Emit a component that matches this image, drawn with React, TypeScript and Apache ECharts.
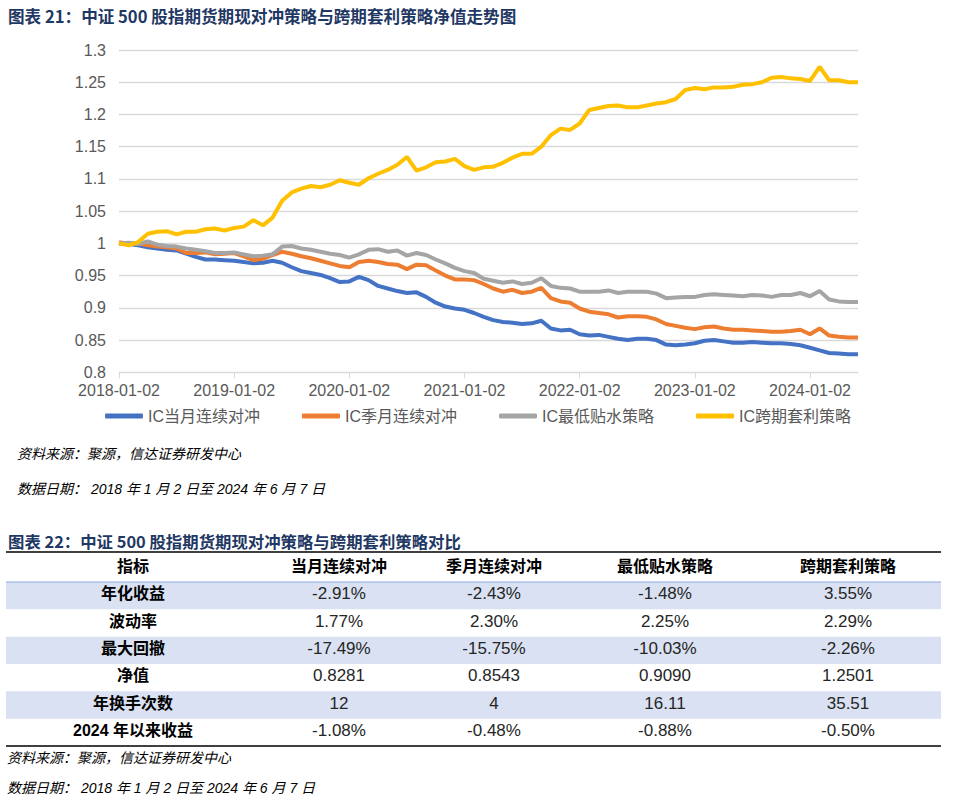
import React, { useEffect, useRef } from "react";
import * as echarts from "echarts";

const dates = [
  "2018-01-02","2018-02-01","2018-03-01","2018-04-02","2018-05-02","2018-06-01","2018-07-02","2018-08-01","2018-09-03","2018-10-08","2018-11-01","2018-12-03",
  "2019-01-02","2019-02-01","2019-03-01","2019-04-01","2019-05-06","2019-06-03","2019-07-01","2019-08-01","2019-09-02","2019-10-08","2019-11-01","2019-12-02",
  "2020-01-02","2020-02-03","2020-03-02","2020-04-01","2020-05-06","2020-06-01","2020-07-01","2020-08-03","2020-09-01","2020-10-09","2020-11-02","2020-12-01",
  "2021-01-02","2021-02-01","2021-03-01","2021-04-01","2021-05-06","2021-06-01","2021-07-01","2021-08-02","2021-09-01","2021-10-08","2021-11-01","2021-12-01",
  "2022-01-02","2022-02-07","2022-03-01","2022-04-01","2022-05-05","2022-06-01","2022-07-01","2022-08-01","2022-09-01","2022-10-10","2022-11-01","2022-12-01",
  "2023-01-02","2023-02-01","2023-03-01","2023-04-03","2023-05-04","2023-06-01","2023-07-03","2023-08-01","2023-09-01","2023-10-09","2023-11-01","2023-12-01",
  "2024-01-02","2024-02-01","2024-03-01","2024-04-01","2024-05-06","2024-06-07",
];

const tickLabels = ["2018-01-02","2019-01-02","2020-01-02","2021-01-02","2022-01-02","2023-01-02","2024-01-02"];

const icMonthly = [
  1.000,0.999,0.997,0.994,0.992,0.990,0.989,0.984,0.979,0.975,0.975,0.974,
  0.973,0.971,0.969,0.970,0.973,0.970,0.963,0.957,0.954,0.951,0.946,0.940,
  0.941,0.948,0.943,0.934,0.930,0.926,0.923,0.924,0.917,0.908,0.902,0.899,
  0.897,0.892,0.886,0.881,0.878,0.877,0.875,0.876,0.880,0.868,0.865,0.866,
  0.859,0.857,0.858,0.855,0.852,0.850,0.852,0.852,0.850,0.843,0.842,0.843,
  0.845,0.849,0.850,0.848,0.846,0.846,0.847,0.846,0.845,0.845,0.844,0.842,
  0.838,0.834,0.830,0.829,0.828,0.828,
];
const icQuarterly = [
  1.002,0.999,1.000,0.997,0.995,0.994,0.992,0.985,0.985,0.986,0.983,0.984,
  0.985,0.980,0.974,0.976,0.982,0.987,0.984,0.980,0.977,0.973,0.969,0.965,
  0.963,0.971,0.973,0.971,0.968,0.967,0.960,0.967,0.966,0.958,0.950,0.944,
  0.944,0.943,0.937,0.930,0.925,0.928,0.923,0.925,0.931,0.915,0.910,0.908,
  0.899,0.894,0.892,0.890,0.885,0.887,0.887,0.886,0.882,0.875,0.872,0.869,
  0.867,0.870,0.871,0.868,0.866,0.866,0.865,0.864,0.863,0.863,0.864,0.866,
  0.859,0.868,0.857,0.855,0.854,0.854,
];
const icMinDiscount = [
  1.000,1.001,0.999,1.003,0.998,0.996,0.995,0.992,0.990,0.988,0.985,0.985,
  0.986,0.983,0.980,0.981,0.983,0.995,0.996,0.992,0.990,0.987,0.984,0.982,
  0.978,0.983,0.990,0.991,0.987,0.989,0.981,0.985,0.982,0.975,0.969,0.962,
  0.957,0.954,0.945,0.942,0.939,0.941,0.937,0.939,0.946,0.934,0.931,0.930,
  0.925,0.925,0.925,0.927,0.923,0.925,0.925,0.925,0.922,0.915,0.916,0.917,
  0.917,0.920,0.921,0.920,0.919,0.918,0.920,0.919,0.917,0.920,0.920,0.923,
  0.918,0.926,0.913,0.910,0.909,0.909,
];
const icCalendar = [
  1.000,0.997,1.002,1.015,1.018,1.019,1.014,1.018,1.018,1.022,1.023,1.020,
  1.024,1.026,1.036,1.028,1.040,1.066,1.079,1.085,1.089,1.087,1.091,1.098,
  1.094,1.091,1.101,1.108,1.114,1.122,1.134,1.113,1.118,1.126,1.127,1.131,
  1.120,1.114,1.118,1.119,1.125,1.133,1.139,1.139,1.150,1.168,1.178,1.176,
  1.186,1.207,1.210,1.213,1.214,1.211,1.211,1.214,1.217,1.219,1.224,1.238,
  1.241,1.239,1.242,1.242,1.243,1.246,1.247,1.250,1.257,1.258,1.256,1.255,
  1.252,1.274,1.253,1.253,1.250,1.250,
];

const seriesNames = ["IC当月连续对冲", "IC季月连续对冲", "IC最低贴水策略", "IC跨期套利策略"];
const seriesColors = ["#4472C4", "#ED7D31", "#A5A5A5", "#FFC000"];

const chartTitle = "图表 21：中证 500 股指期货期现对冲策略与跨期套利策略净值走势图";
const tableTitle = "图表 22：中证 500 股指期货期现对冲策略与跨期套利策略对比";
const sourceText = "资料来源：聚源，信达证券研发中心";
const dateText = "数据日期： 2018 年 1 月 2 日至 2024 年 6 月 7 日";

const tableHeader = ["指标", "当月连续对冲", "季月连续对冲", "最低贴水策略", "跨期套利策略"];
const metrics = ["年化收益", "波动率", "最大回撤", "净值", "年换手次数", "2024 年以来收益"];
const colMonthly = ["-2.91%", "1.77%", "-17.49%", "0.8281", "12", "-1.08%"];
const colQuarterly = ["-2.43%", "2.30%", "-15.75%", "0.8543", "4", "-0.48%"];
const colMinDiscount = ["-1.48%", "2.25%", "-10.03%", "0.9090", "16.11", "-0.88%"];
const colCalendar = ["3.55%", "2.29%", "-2.26%", "1.2501", "35.51", "-0.50%"];

const CJK = "'Noto Sans CJK SC'";
const LATIN = "'Liberation Sans', 'Noto Sans CJK SC', sans-serif";

function txt(text: string, x: number, y: number, font: string, fill: string, align = "left") {
  return {
    type: "text",
    x,
    y,
    silent: true,
    style: {
      text,
      font,
      fill,
      align,
      verticalAlign: "middle",
      textAlign: align,
      textVerticalAlign: "middle",
    },
  };
}

export default function App() {
  const ref = useRef<HTMLDivElement>(null);

  useEffect(() => {
    if (!ref.current) return;
    const chart = echarts.init(ref.current, undefined, { renderer: "svg" });

    const showTick = (_i: number, v: string) => tickLabels.includes(v);

    // table layout
    const colX = [133, 339, 494, 665, 848];
    const tableLeft = 6;
    const tableRight = 941;
    const headTop = 552;
    const bodyTop = 582;
    const bodyBottom = 746;
    const rowH = (bodyBottom - bodyTop) / metrics.length;
    const columns = [colMonthly, colQuarterly, colMinDiscount, colCalendar];

    const graphic: any[] = [];
    graphic.push(txt(chartTitle, 8, 16, `bold 16.6px ${CJK}`, "#1F3864"));
    graphic.push(txt(sourceText, 17, 453, `italic 14px ${CJK}`, "#000000"));
    graphic.push(txt(dateText, 17, 489, `italic 14px ${LATIN}`, "#000000"));
    graphic.push(txt(tableTitle, 8, 541, `bold 16.4px ${CJK}`, "#1F3864"));

    metrics.forEach((_m, i) => {
      if (i % 2 === 0) {
        graphic.push({
          type: "rect",
          silent: true,
          shape: { x: tableLeft, y: bodyTop + i * rowH, width: tableRight - tableLeft, height: rowH },
          style: { fill: "#D9E1F2" },
        });
      }
    });
    graphic.push({
      type: "line", silent: true,
      shape: { x1: tableLeft, y1: headTop, x2: tableRight, y2: headTop },
      style: { stroke: "#000000", lineWidth: 1.5 },
    });
    graphic.push({
      type: "line", silent: true,
      shape: { x1: tableLeft, y1: bodyTop, x2: tableRight, y2: bodyTop },
      style: { stroke: "#8EA9DB", lineWidth: 1 },
    });
    graphic.push({
      type: "line", silent: true,
      shape: { x1: tableLeft, y1: bodyBottom, x2: tableRight, y2: bodyBottom },
      style: { stroke: "#000000", lineWidth: 1.5 },
    });
    tableHeader.forEach((h, j) => {
      graphic.push(txt(h, colX[j], 565, `bold 16px ${CJK}`, "#000000", "center"));
    });
    metrics.forEach((m, i) => {
      const cy = bodyTop + i * rowH + rowH / 2 - 2;
      graphic.push(txt(m, colX[0], cy, `bold 16px ${LATIN}`, "#000000", "center"));
      columns.forEach((col, j) => {
        graphic.push(txt(col[i], colX[j + 1], cy, `17px ${LATIN}`, "#262626", "center"));
      });
    });
    graphic.push(txt(sourceText, 7, 757, `italic 14px ${CJK}`, "#000000"));
    graphic.push(txt(dateText, 7, 788, `italic 14px ${LATIN}`, "#000000"));

    const seriesData = [icMonthly, icQuarterly, icMinDiscount, icCalendar];

    chart.setOption({
      animation: false,
      backgroundColor: "#FFFFFF",
      color: seriesColors,
      grid: { left: 119, right: 114, top: 50, height: 322.3, containLabel: false },
      xAxis: {
        type: "category",
        data: dates,
        boundaryGap: false,
        axisLine: { lineStyle: { color: "#D9D9D9", width: 1 } },
        axisTick: { show: true, interval: showTick, length: 6, lineStyle: { color: "#D9D9D9" } },
        axisLabel: {
          interval: showTick,
          color: "#595959",
          fontSize: 16,
          fontFamily: LATIN,
          margin: 10,
        },
        splitLine: { show: false },
      },
      yAxis: {
        type: "value",
        min: 0.8,
        max: 1.3,
        interval: 0.05,
        axisLine: { show: false },
        axisTick: { show: false },
        axisLabel: {
          color: "#595959",
          fontSize: 16,
          fontFamily: LATIN,
          margin: 13,
          formatter: (v: number) => String(parseFloat(v.toFixed(2))),
        },
        splitLine: { lineStyle: { color: "#D9D9D9", width: 1.3 } },
      },
      legend: {
        left: 100,
        top: 401,
        icon: "roundRect",
        itemWidth: 38,
        itemHeight: 5,
        itemGap: 42,
        textStyle: { color: "#595959", fontSize: 16, fontFamily: LATIN, lineHeight: 20 },
      },
      series: seriesNames.map((name, i) => ({
        name,
        type: "line",
        data: seriesData[i],
        symbol: "none",
        showSymbol: false,
        lineStyle: { width: 4, color: seriesColors[i] },
        itemStyle: { color: seriesColors[i] },
        z: 2 + i,
      })),
      graphic,
    });

    return () => chart.dispose();
  }, []);

  return (
    <div
      ref={ref}
      style={{ position: "absolute", left: 0, top: 0, width: 972, height: 804 }}
    />
  );
}
